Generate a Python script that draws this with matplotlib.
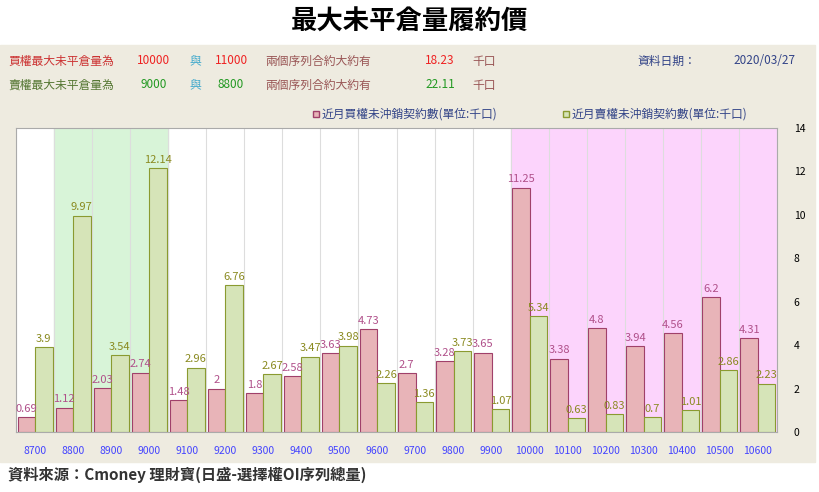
import numpy as np
import matplotlib.pyplot as plt
from matplotlib import font_manager
from matplotlib.patches import Rectangle

names = sorted({f.name for f in font_manager.fontManager.ttflist if 'CJK' in f.name})
plt.rcParams['font.family'] = names + ['DejaVu Sans']

strikes = ['8700', '8800', '8900', '9000', '9100', '9200', '9300', '9400', '9500', '9600',
           '9700', '9800', '9900', '10000', '10100', '10200', '10300', '10400', '10500', '10600']
calls = [0.69, 1.12, 2.03, 2.74, 1.48, 2, 1.8, 2.58, 3.63, 4.73,
         2.7, 3.28, 3.65, 11.25, 3.38, 4.8, 3.94, 4.56, 6.2, 4.31]
puts = [3.9, 9.97, 3.54, 12.14, 2.96, 6.76, 2.67, 3.47, 3.98, 2.26,
        1.36, 3.73, 1.07, 5.34, 0.63, 0.83, 0.7, 1.01, 2.86, 2.23]
green_span = (1, 3)
pink_span = (13, 19)

W, H = 820, 492
fig = plt.figure(figsize=(W / 100, H / 100), dpi=100)

# beige panel
fig.patches.append(Rectangle((0, 30 / H), 815 / W, (462 - 45) / H,
                             transform=fig.transFigure, color='#eeebe0', zorder=-5))

fig.text(0.5, 1 - 22 / H, '最大未平倉量履約價', ha='center', va='center', fontsize=19, fontweight='bold')

def row(y, items):
    for x, s, c in items:
        fig.text(x / W, 1 - y / H, s, ha='left', va='center', fontsize=8.5, color=c)

red, grn, lab, cyan = '#ee2222', '#229922', '#995555', '#44aacc'
row(61, [(8, '買權最大未平倉量為', '#cc3333'), (137, '10000', red), (190, '與', cyan),
         (215, '11000', red), (265, '兩個序列合約大約有', lab), (425, '18.23', red), (472, '千口', lab),
         (637, '資料日期：', '#334488'), (733, '2020/03/27', '#334488')])
row(85, [(8, '賣權最大未平倉量為', '#557733'), (141, '9000', grn), (190, '與', cyan),
         (218, '8800', grn), (265, '兩個序列合約大約有', lab), (425, '22.11', grn), (472, '千口', lab)])

fig.patches.append(Rectangle((313 / W, 1 - 117 / H), 6 / W, 6 / H, transform=fig.transFigure,
                             facecolor='#e8b4b8', edgecolor='#a0406a', lw=1))
fig.text(322 / W, 1 - 114 / H, '近月買權未沖銷契約數(單位:千口)', fontsize=8.5, color='#334488', va='center')
fig.patches.append(Rectangle((563 / W, 1 - 117 / H), 6 / W, 6 / H, transform=fig.transFigure,
                             facecolor='#d6e4b8', edgecolor='#8a9a30', lw=1))
fig.text(572 / W, 1 - 114 / H, '近月賣權未沖銷契約數(單位:千口)', fontsize=8.5, color='#334488', va='center')

ax = fig.add_axes([16 / W, 1 - 432 / H, (777 - 16) / W, (432 - 128) / H])
x = np.arange(len(strikes))
ax.set_xlim(-0.5, len(strikes) - 0.5)
ax.set_ylim(0, 14)
ax.axvspan(green_span[0] - 0.5, green_span[1] + 0.5, color='#d8f4d8', zorder=0)
ax.axvspan(pink_span[0] - 0.5, pink_span[1] + 0.5, color='#fcd4fc', zorder=0)
for i in range(len(strikes) + 1):
    ax.axvline(i - 0.5, color='#dddddd', lw=0.8, zorder=0.5)

w = 0.46
ax.bar(x - w / 2, calls, w, color='#e8b4b8', edgecolor='#a0406a', lw=0.8, zorder=2)
ax.bar(x + w / 2, puts, w, color='#d6e4b8', edgecolor='#8a9a30', lw=0.8, zorder=2)
for i in x:
    ax.text(i - w / 2, calls[i] + 0.15, f'{calls[i]:g}', ha='center', va='bottom', fontsize=8, color='#b0508a', zorder=3)
    ax.text(i + w / 2, puts[i] + 0.15, f'{puts[i]:g}', ha='center', va='bottom', fontsize=8, color='#8a8a20', zorder=3)

ax.set_xticks(x)
ax.set_xticklabels(strikes, color='#4444ff', fontsize=7.5)
ax.yaxis.tick_right()
ax.set_yticks(range(0, 15, 2))
ax.tick_params(axis='y', labelsize=7.5, length=0, pad=12)
ax.tick_params(axis='x', length=0, pad=10)
for s in ax.spines.values():
    s.set_color('#aaaaaa')
    s.set_linewidth(0.8)

fig.text(8 / W, 1 - 475 / H, '資料來源：Cmoney 理財寶(日盛-選擇權OI序列總量)', fontsize=11, fontweight='bold', va='center', color='#333333')

fig.savefig('out.png', dpi=100)
